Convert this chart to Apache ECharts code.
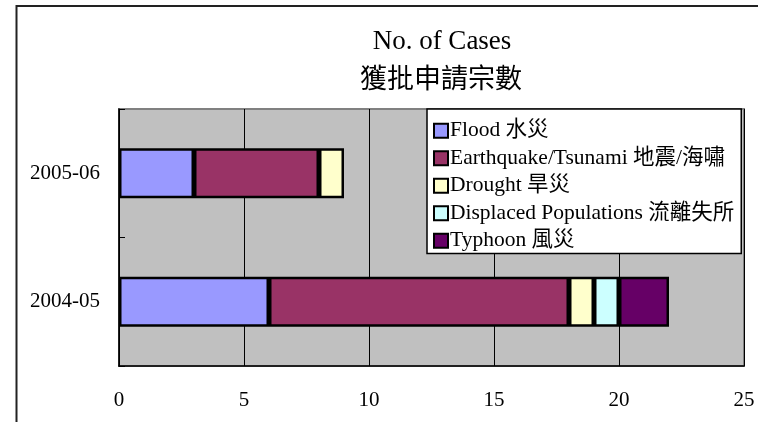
<!DOCTYPE html>
<html>
<head>
<meta charset="utf-8">
<script src="https://cdn.jsdelivr.net/npm/echarts@6/dist/echarts.min.js"></script>
<style>
html,body{margin:0;padding:0;background:#fff;}
#chart{width:758px;height:422px;}
</style>
</head>
<body>
<div id="chart"></div>
<script>
const categories = ['2004-05', '2005-06'];
const seriesNames = ['Flood 水災', 'Earthquake/Tsunami 地震/海嘯', 'Drought 旱災', 'Displaced Populations 流離失所', 'Typhoon 風災'];
const flood = [6, 3];
const earthquake = [12, 5];
const drought = [1, 1];
const displaced = [1, 0];
const typhoon = [2, 0];
const xTicks = [0, 5, 10, 15, 20, 25];
const colors = ['#9999ff', '#993366', '#ffffcc', '#ccffff', '#660066'];
const titleLine1 = 'No. of Cases';
const titleLine2 = '獲批申請宗數';

const values = [flood, earthquake, drought, displaced, typhoon];
const FONT = "'Liberation Serif', 'Times New Roman', 'Noto Sans CJK TC', serif";

const chart = echarts.init(document.getElementById('chart'), null, {renderer: 'canvas'});
chart.setOption({
  animation: false,
  backgroundColor: '#ffffff',
  title: [
    {text: titleLine1, left: 442, top: 28, textAlign: 'center', padding: 0,
     textStyle: {fontFamily: FONT, fontSize: 27, fontWeight: 'normal', color: '#000'}},
    {text: titleLine2, left: 441, top: 67, textAlign: 'center', padding: 0,
     textStyle: {fontFamily: FONT, fontSize: 27, fontWeight: 'normal', color: '#000'}}
  ],
  graphic: [{
    type: 'rect', silent: true, z: -10,
    shape: {x: 16.5, y: 6, width: 900, height: 600},
    style: {fill: null, stroke: '#222', lineWidth: 2}
  }],
  legend: {
    orient: 'vertical',
    left: 427, top: 109,
    padding: [11, 7, 2, 6],
    itemGap: 6,
    itemWidth: 14, itemHeight: 14,
    backgroundColor: '#ffffff',
    borderColor: '#000', borderWidth: 1.5,
    data: seriesNames,
    icon: 'rect',
    textStyle: {fontFamily: FONT, fontSize: 21.5, lineHeight: 21, color: '#000', padding: [0,0,0,-3]},
    z: 10
  },
  grid: {
    left: 119, right: 14, top: 109, bottom: 56,
    show: true, backgroundColor: '#c0c0c0', borderColor: '#808080', borderWidth: 2,
    containLabel: false
  },
  xAxis: {
    type: 'value', min: xTicks[0], max: xTicks[xTicks.length - 1], interval: 5,
    axisLine: {show: true, lineStyle: {color: '#000', width: 1.5}},
    axisTick: {show: false},
    splitLine: {show: true, lineStyle: {color: '#000', width: 1}},
    axisLabel: {fontFamily: FONT, fontSize: 21, color: '#000', margin: 24}
  },
  yAxis: {
    type: 'category', data: categories,
    axisLine: {show: true, lineStyle: {color: '#000', width: 1.5}},
    axisTick: {show: true, inside: true, length: 6, lineStyle: {color: '#000'}},
    splitLine: {show: false},
    axisLabel: {fontFamily: FONT, fontSize: 21, color: '#000', margin: 19}
  },
  series: seriesNames.map((name, i) => ({
    name: name,
    type: 'bar',
    stack: 'total',
    barWidth: 50,
    data: values[i].map(v => v === 0 ? null : v),
    itemStyle: {color: colors[i], borderColor: '#000', borderWidth: 2.5},
    emphasis: {disabled: true}
  }))
});
</script>
</body>
</html>
